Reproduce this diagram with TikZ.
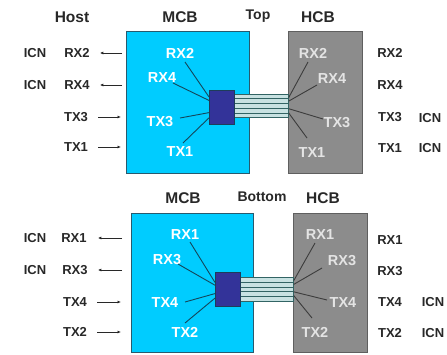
\documentclass[tikz,border=0pt]{standalone}
\usepackage{fontspec}
\setmainfont{Liberation Sans}
\usetikzlibrary{arrows.meta,calc}
\definecolor{mcbblue}{RGB}{0,204,255}
\definecolor{mcbedge}{RGB}{40,90,110}
\definecolor{hcbgray}{RGB}{140,140,140}
\definecolor{hcbedge}{RGB}{95,95,95}
\definecolor{chipblue}{RGB}{51,51,153}
\definecolor{chipedge}{RGB}{30,60,90}
\definecolor{ribbonfill}{RGB}{200,226,226}
\definecolor{ribbonline}{RGB}{50,100,100}
\definecolor{txt}{RGB}{40,40,40}
\definecolor{graytxt}{RGB}{228,228,228}
\definecolor{fanb}{RGB}{20,70,90}
\definecolor{fang}{RGB}{60,60,60}
\begin{document}
\begin{tikzpicture}[x=1pt,y=-1pt,
  mcb/.style={draw=mcbedge, fill=mcbblue, line width=0.8pt, anchor=north west, inner sep=0pt},
  hcb/.style={draw=hcbedge, fill=hcbgray, line width=0.8pt, anchor=north west, inner sep=0pt},
  chip/.style={draw=chipedge, fill=chipblue, line width=0.8pt, anchor=north west, inner sep=0pt, minimum width=25pt, minimum height=34pt},
  ribbon/.style={draw=ribbonline, fill=ribbonfill, line width=0.7pt, anchor=north west, inner sep=0pt},
  head/.style={font=\bfseries\fontsize{15.5}{16}\selectfont, text=txt, inner sep=0pt},
  side/.style={font=\bfseries\fontsize{14}{15}\selectfont, text=txt, inner sep=0pt},
  outlbl/.style={font=\bfseries\fontsize{13}{14}\selectfont, text=txt, inner sep=0pt},
  inblue/.style={font=\bfseries\fontsize{14.5}{15}\selectfont, text=white, inner sep=0pt},
  ingray/.style={font=\bfseries\fontsize{14.5}{15}\selectfont, text=graytxt, inner sep=0pt},
  fanblue/.style={draw=fanb, line width=0.9pt},
  fangray/.style={draw=fang, line width=0.9pt},
  sig/.style={draw=txt, line width=0.7pt, -{Latex[length=3.5pt,width=3pt]}}
]
\useasboundingbox[fill=white] (0,0) rectangle (447,354);

% ================= TOP =================
\node[head] (host) at (72,17) {Host};
\node[head] (mcbTt) at (180,17) {MCB};
\node[side] (topt) at (258,16) {Top};
\node[head] (hcbTt) at (318,17) {HCB};

\node[mcb, minimum width=123pt, minimum height=142pt] (mcbT) at (126,31) {};
\node[hcb, minimum width=74pt, minimum height=142pt] (hcbT) at (288,31) {};
\node[ribbon, minimum width=54pt, minimum height=23pt] (ribT) at (234,94) {};
\foreach \f in {0.2,0.4,0.6,0.8}
  \draw[ribbonline, line width=0.7pt] ($(ribT.north west)!\f!(ribT.south west)$) -- ($(ribT.north east)!\f!(ribT.south east)$);
\node[chip] (chipT) at (209,90) {};

% inner labels blue
\node[inblue] (bRX2) at (180,53) {RX2};
\node[inblue] (bRX4) at (162,78) {RX4};
\node[inblue] (bTX3) at (160,122) {TX3};
\node[inblue] (bTX1) at (180,152) {TX1};
\coordinate (cb1) at (185,62);
\coordinate (cb2) at (173,83);
\coordinate (cb3) at (180,118);
\coordinate (cb4) at (183,143);
\draw[fanblue] (cb1) -- ($(chipT.north west)!0.2!(chipT.south west)$);
\draw[fanblue] (cb2) -- ($(chipT.north west)!0.3!(chipT.south west)$);
\draw[fanblue] (cb3) -- ($(chipT.north west)!0.65!(chipT.south west)$);
\draw[fanblue] (cb4) -- ($(chipT.north west)!0.8!(chipT.south west)$);

% inner labels gray
\node[ingray] (gRX2) at (313,53) {RX2};
\node[ingray] (gRX4) at (332,79) {RX4};
\node[ingray] (gTX3) at (337,123) {TX3};
\node[ingray] (gTX1) at (312,153) {TX1};
\coordinate (cg1) at (308,62);
\coordinate (cg2) at (317,85);
\coordinate (cg3) at (323,119);
\coordinate (cg4) at (307,138);
\draw[fangray] ($(ribT.north east)!0.15!(ribT.south east)$) -- (cg1);
\draw[fangray] ($(ribT.north east)!0.3!(ribT.south east)$) -- (cg2);
\draw[fangray] ($(ribT.north east)!0.62!(ribT.south east)$) -- (cg3);
\draw[fangray] ($(ribT.north east)!0.8!(ribT.south east)$) -- (cg4);

% outer left
\node[outlbl] (icnT1) at (35,53) {ICN};
\node[outlbl] (lRX2) at (77,53) {RX2};
\node[outlbl] (icnT2) at (35,85) {ICN};
\node[outlbl] (lRX4) at (77,85) {RX4};
\node[outlbl] (lTX3) at (76,117) {TX3};
\node[outlbl] (lTX1) at (76,147) {TX1};
\coordinate (aT1) at (122,53);
\coordinate (aT2) at (122,85);
\coordinate (aT3) at (121,117);
\coordinate (aT4) at (121,147);
\draw[sig] (aT1) -- ($(lRX2.east)+(10,0)$);
\draw[sig] (aT2) -- ($(lRX4.east)+(10,0)$);
\draw[sig] ($(lTX3.east)+(10,0)$) -- (aT3);
\draw[sig] ($(lTX1.east)+(10,0)$) -- (aT4);

% outer right
\node[outlbl] (rRX2) at (390,53) {RX2};
\node[outlbl] (rRX4) at (390,85) {RX4};
\node[outlbl] (rTX3) at (390,117) {TX3};
\node[outlbl] (icnT3) at (430,118) {ICN};
\node[outlbl] (rTX1) at (390,148) {TX1};
\node[outlbl] (icnT4) at (430,148) {ICN};

% ================= BOTTOM =================
\node[head] (mcbBt) at (183,198) {MCB};
\node[side] (bott) at (262,197) {Bottom};
\node[head] (hcbBt) at (323,198) {HCB};

\node[mcb, minimum width=122pt, minimum height=139pt] (mcbB) at (131,213) {};
\node[hcb, minimum width=74pt, minimum height=139pt] (hcbB) at (293,213) {};
\node[ribbon, minimum width=53pt, minimum height=24pt] (ribB) at (240,277) {};
\foreach \f in {0.2,0.4,0.6,0.8}
  \draw[ribbonline, line width=0.7pt] ($(ribB.north west)!\f!(ribB.south west)$) -- ($(ribB.north east)!\f!(ribB.south east)$);
\node[chip] (chipB) at (215,272) {};

\node[inblue] (bRX1) at (185,235) {RX1};
\node[inblue] (bRX3) at (167,260) {RX3};
\node[inblue] (bTX4) at (165,303) {TX4};
\node[inblue] (bTX2) at (185,332) {TX2};
\coordinate (db1) at (190,242);
\coordinate (db2) at (178,264);
\coordinate (db3) at (185,302);
\coordinate (db4) at (185,323);
\draw[fanblue] (db1) -- ($(chipB.north west)!0.3!(chipB.south west)$);
\draw[fanblue] (db2) -- ($(chipB.north west)!0.38!(chipB.south west)$);
\draw[fanblue] (db3) -- ($(chipB.north west)!0.62!(chipB.south west)$);
\draw[fanblue] (db4) -- ($(chipB.north west)!0.75!(chipB.south west)$);

\node[ingray] (gRX1) at (320,235) {RX1};
\node[ingray] (gRX3) at (342,261) {RX3};
\node[ingray] (gTX4) at (343,303) {TX4};
\node[ingray] (gTX2) at (315,332) {TX2};
\coordinate (dg1) at (315,243);
\coordinate (dg2) at (322,268);
\coordinate (dg3) at (327,300);
\coordinate (dg4) at (312,318);
\draw[fangray] ($(ribB.north east)!0.15!(ribB.south east)$) -- (dg1);
\draw[fangray] ($(ribB.north east)!0.3!(ribB.south east)$) -- (dg2);
\draw[fangray] ($(ribB.north east)!0.6!(ribB.south east)$) -- (dg3);
\draw[fangray] ($(ribB.north east)!0.75!(ribB.south east)$) -- (dg4);

\node[outlbl] (icnB1) at (35,238) {ICN};
\node[outlbl] (lRX1) at (74,238) {RX1};
\node[outlbl] (icnB2) at (35,270) {ICN};
\node[outlbl] (lRX3) at (75,270) {RX3};
\node[outlbl] (lTX4) at (75,302) {TX4};
\node[outlbl] (lTX2) at (75,332) {TX2};
\coordinate (aB1) at (122,238);
\coordinate (aB2) at (122,270);
\coordinate (aB3) at (121,302);
\coordinate (aB4) at (121,332);
\draw[sig] (aB1) -- ($(lRX1.east)+(11,0)$);
\draw[sig] (aB2) -- ($(lRX3.east)+(10,0)$);
\draw[sig] ($(lTX4.east)+(10,0)$) -- (aB3);
\draw[sig] ($(lTX2.east)+(10,0)$) -- (aB4);

\node[outlbl] (rRX1) at (390,240) {RX1};
\node[outlbl] (rRX3) at (390,271) {RX3};
\node[outlbl] (rTX4) at (390,302) {TX4};
\node[outlbl] (icnB3) at (433,302) {ICN};
\node[outlbl] (rTX2) at (390,333) {TX2};
\node[outlbl] (icnB4) at (433,333) {ICN};
\end{tikzpicture}
\end{document}
